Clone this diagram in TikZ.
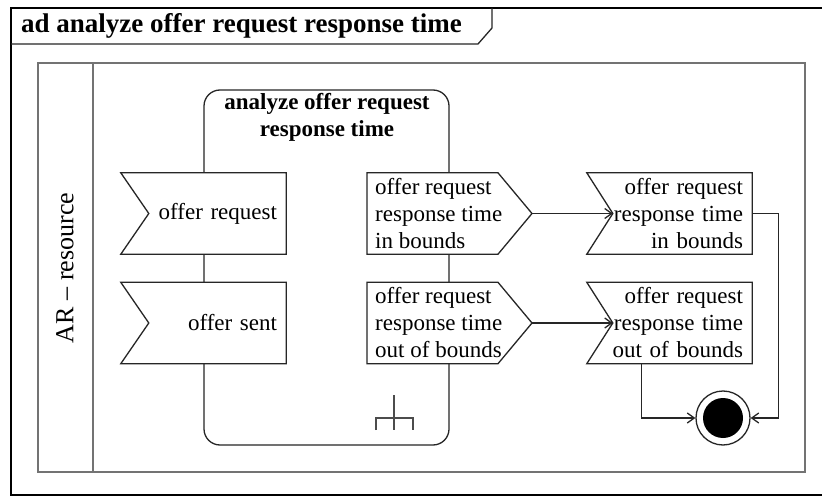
\documentclass[tikz,border=0pt]{standalone}
\usepackage{fontspec}
\setmainfont{Liberation Serif}
\usetikzlibrary{arrows.meta}

\tikzset{
	umlline/.style={draw=black!85, line width=1.3pt},
	flow/.style={umlline, -{Straight Barb[length=7pt,width=10pt]}},
	pintext/.style={font=\fontsize{23}{27}\selectfont},
	sendpin/.style={pintext, fill=white, inner xsep=8pt, inner ysep=0pt,
		minimum height=81pt, anchor=west, align=left},
	acceptpin/.style={pintext, fill=white, inner xsep=9pt, inner ysep=0pt,
		minimum height=81pt, text width=147pt, align=right},
}

\begin{document}
\begin{tikzpicture}[x=1pt, y=-1pt]
	\clip (0,0) rectangle (822,497);
	\fill[white] (0,0) rectangle (822,497);

	% diagram frame with its name tab
	\draw[line width=2.6pt] (11,8) rectangle (840,495);
	\draw[umlline] (11,44) -- (478,44) -- (492,28) -- (492,8);
	\node[anchor=west, inner sep=0pt, font=\fontsize{27}{32}\selectfont\bfseries] (frametitle) at (21,26) {ad analyze offer request response time};

	% swimlane
	\draw[draw=black!55, line width=1.8pt] (38,63) rectangle (805,472);
	\draw[draw=black!55, line width=1.8pt] (93,63) -- (93,472);
	\node[rotate=90, font=\fontsize{26}{30}\selectfont] (lanelabel) at (65,268) {AR -- resource};

	% the activity
	\node[umlline, rounded corners=16pt, minimum width=245pt, minimum height=355pt] (analyze) at (326.5,267.5) {};
	\node[align=center, font=\fontsize{23}{27}\selectfont\bfseries] (analyzetitle) at (327,117) {analyze offer request\\response time};

	% input pins
	\node[acceptpin] (offreq)  at (203.5,213.5) {offer request};
	\node[acceptpin] (offsent) at (203.5,323)   {offer sent};
	\draw[umlline] (offreq.north west) -- (offreq.north east) -- (offreq.south east) -- (offreq.south west) -- ([xshift=28pt]offreq.west) -- cycle;
	\draw[umlline] (offsent.north west) -- (offsent.north east) -- (offsent.south east) -- (offsent.south west) -- ([xshift=28pt]offsent.west) -- cycle;

	% output pins
	\node[sendpin] (inbounds)  at (367,213.5) {offer request\\response time\\in bounds};
	\node[sendpin] (outbounds) at (367,323)   {offer request\\response time\\out of bounds};
	\draw[umlline] (inbounds.north west) -- ([xshift=131pt]inbounds.north west) -- ([xshift=165pt]inbounds.west) -- ([xshift=131pt]inbounds.south west) -- (inbounds.south west) -- cycle;
	\draw[umlline] (outbounds.north west) -- ([xshift=131pt]outbounds.north west) -- ([xshift=165pt]outbounds.west) -- ([xshift=131pt]outbounds.south west) -- (outbounds.south west) -- cycle;
	\coordinate (intip)  at ([xshift=165pt]inbounds.west);
	\coordinate (outtip) at ([xshift=165pt]outbounds.west);

	% accepted signals
	\node[acceptpin] (inrecv)  at (669.5,213.5) {offer request\\response time\\in bounds};
	\node[acceptpin] (outrecv) at (669.5,323)   {offer request\\response time\\out of bounds};
	\draw[umlline] (inrecv.north west) -- (inrecv.north east) -- (inrecv.south east) -- (inrecv.south west) -- ([xshift=26pt]inrecv.west) -- cycle;
	\draw[umlline] (outrecv.north west) -- (outrecv.north east) -- (outrecv.south east) -- (outrecv.south west) -- ([xshift=26pt]outrecv.west) -- cycle;
	\coordinate (innotch)  at ([xshift=26pt]inrecv.west);
	\coordinate (outnotch) at ([xshift=26pt]outrecv.west);

	% rake: the activity is refined elsewhere
	\draw[umlline, draw=black!70] (394,395) -- (394,430);
	\draw[umlline, draw=black!70] (376,430) -- (376,418) -- (413,418) -- (413,430);

	% final node
	\node[umlline, circle, minimum size=54pt, inner sep=0pt] (final) at (723,418) {};
	\fill (final.center) circle (20pt);

	\draw[flow] (intip) -- (innotch);
	\draw[flow] (outtip) -- (outnotch);
	\draw[flow] ([xshift=55pt]outrecv.south west) |- (final.west);
	\draw[flow] (inrecv.east) -- ++(26,0) |- (final.east);
\end{tikzpicture}
\end{document}
